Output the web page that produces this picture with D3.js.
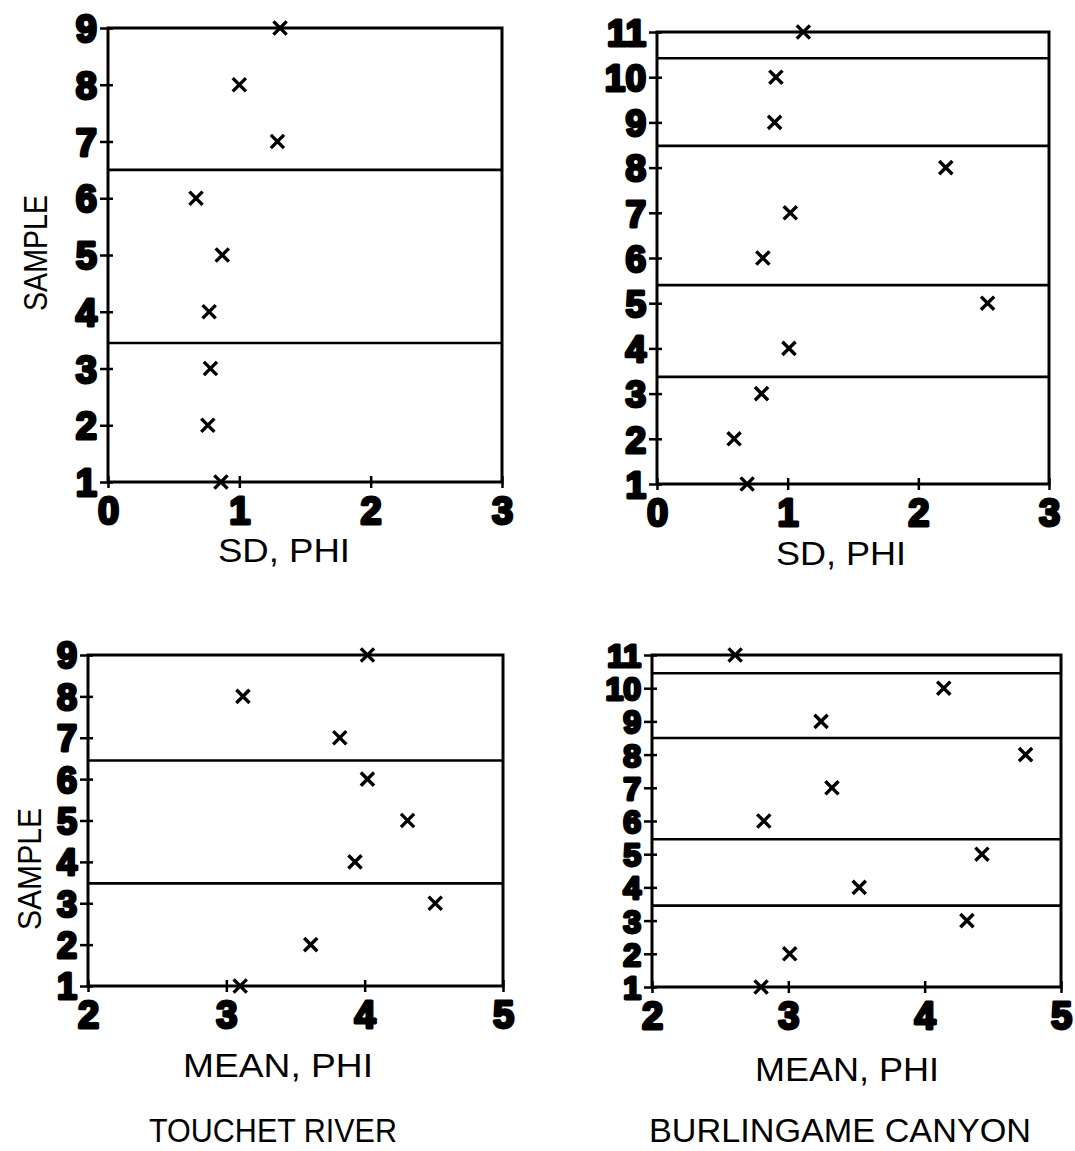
<!DOCTYPE html>
<html>
<head>
<meta charset="utf-8">
<script src="https://cdn.jsdelivr.net/npm/d3@7"></script>
<style>
  html, body { margin: 0; padding: 0; background: #fff; }
  svg { display: block; }
</style>
</head>
<body>
<svg id="chart" width="1075" height="1151"></svg>
<script>
// ---------------- DATA ----------------
const touchetSamples = [1, 2, 3, 4, 5, 6, 7, 8, 9];
const touchetSD      = [0.86, 0.76, 0.78, 0.77, 0.87, 0.67, 1.29, 1.00, 1.31];
const touchetMean    = [3.10, 3.61, 4.51, 3.93, 4.31, 4.02, 3.82, 3.12, 4.02];
const touchetDividersSD   = [6.5, 3.45];
const touchetDividersMean = [6.45, 3.48];

const burlSamples = [1, 2, 3, 4, 5, 6, 7, 8, 9, 10, 11];
const burlSD      = [0.69, 0.59, 0.80, 1.01, 2.53, 0.81, 1.02, 2.21, 0.90, 0.91, 1.12];
const burlMean    = [2.80, 3.01, 4.31, 3.52, 4.42, 2.82, 3.32, 4.74, 3.24, 4.14, 2.61];
const burlDividersSD   = [10.42, 8.48, 5.4, 3.37];
const burlDividersMean = [10.45, 8.5, 5.45, 3.45];

const sdTicks   = [0, 1, 2, 3];
const meanTicks = [2, 3, 4, 5];
const touchetYTicks = [1, 2, 3, 4, 5, 6, 7, 8, 9];
const burlYTicks    = [1, 2, 3, 4, 5, 6, 7, 8, 9, 10, 11];

const xTitleSD = "SD, PHI";
const xTitleMean = "MEAN, PHI";
const yTitle = "SAMPLE";
const siteTitles = ["TOUCHET RIVER", "BURLINGAME CANYON"];

// ---------------- LAYOUT ----------------
const svg = d3.select("#chart");
const TEXT_FONT = "'Liberation Sans', Arial, sans-serif";
const DIGIT_FONT = "'Liberation Sans', Arial, sans-serif";

const panels = [
  { box: {l: 108, r: 502, t: 28, b: 482},  xd: [0, 3], yd: [1, 9],  xt: sdTicks,   yt: touchetYTicks,
    xs: touchetSD, ys: touchetSamples, div: touchetDividersSD, yfs: 38,
    xTitle: xTitleSD, xTitlePos: [284, 562, 132], yTitlePos: [47, 253, 116] },
  { box: {l: 657, r: 1049, t: 32, b: 484}, xd: [0, 3], yd: [1, 11], xt: sdTicks,   yt: burlYTicks,
    xs: burlSD, ys: burlSamples, div: burlDividersSD, yfs: 37,
    xTitle: xTitleSD, xTitlePos: [841, 565, 130] },
  { box: {l: 88, r: 503, t: 655, b: 986},  xd: [2, 5], yd: [1, 9],  xt: meanTicks, yt: touchetYTicks,
    xs: touchetMean, ys: touchetSamples, div: touchetDividersMean, yfs: 36,
    xTitle: xTitleMean, xTitlePos: [278, 1077, 190], yTitlePos: [41, 869, 122] },
  { box: {l: 652, r: 1061, t: 655, b: 987}, xd: [2, 5], yd: [1, 11], xt: meanTicks, yt: burlYTicks,
    xs: burlMean, ys: burlSamples, div: burlDividersMean, yfs: 32,
    xTitle: xTitleMean, xTitlePos: [847, 1081, 184] }
];

panels.forEach(p => {
  const g = svg.append("g");
  const x = d3.scaleLinear().domain(p.xd).range([p.box.l, p.box.r]);
  const y = d3.scaleLinear().domain(p.yd).range([p.box.b, p.box.t]);

  // frame
  g.append("rect")
    .attr("x", x(p.xd[0])).attr("y", y(p.yd[1]))
    .attr("width", x(p.xd[1]) - x(p.xd[0]))
    .attr("height", y(p.yd[0]) - y(p.yd[1]))
    .attr("fill", "none").attr("stroke", "#000").attr("stroke-width", 3);

  // dividing lines
  g.selectAll("line.div").data(p.div).enter().append("line")
    .attr("class", "div")
    .attr("x1", x(p.xd[0])).attr("x2", x(p.xd[1]))
    .attr("y1", d => y(d)).attr("y2", d => y(d))
    .attr("stroke", "#000").attr("stroke-width", 2.6);

  // y axis
  const ya = g.append("g").attr("transform", `translate(${x(p.xd[0])},0)`)
    .call(d3.axisLeft(y).tickValues(p.yt).tickFormat(d3.format("d")).tickSizeInner(7).tickSizeOuter(0));
  ya.select(".domain").remove();
  ya.selectAll(".tick line").attr("x1", 5).attr("x2", -8).attr("stroke", "#000").attr("stroke-width", 2.5);
  ya.selectAll(".tick text")
    .attr("x", -11).attr("dy", "0.36em")
    .attr("font-family", DIGIT_FONT).attr("font-weight", "bold").attr("font-size", p.yfs)
    .attr("fill", "#000").attr("stroke", "#000").attr("stroke-width", 3)
    .attr("stroke-linejoin", "round");

  // x axis
  const xa = g.append("g").attr("transform", `translate(0,${y(p.yd[0])})`)
    .call(d3.axisBottom(x).tickValues(p.xt).tickFormat(d3.format("d")).tickSizeInner(6).tickSizeOuter(0));
  xa.select(".domain").remove();
  xa.selectAll(".tick line").attr("y1", -6).attr("y2", 6).attr("stroke", "#000").attr("stroke-width", 2.5);
  xa.selectAll(".tick text")
    .attr("y", 15).attr("dy", "0.71em")
    .attr("font-family", DIGIT_FONT).attr("font-weight", "bold").attr("font-size", 38)
    .attr("fill", "#000").attr("stroke", "#000").attr("stroke-width", 3)
    .attr("stroke-linejoin", "round");
  g.selectAll("g").attr("font-family", DIGIT_FONT);

  // points
  const sym = d3.symbol().type(d3.symbolX).size(115);
  g.selectAll("path.pt").data(p.ys.map((s, i) => ({s, v: p.xs[i]}))).enter().append("path")
    .attr("class", "pt")
    .attr("d", sym)
    .attr("transform", d => `translate(${x(d.v)},${y(d.s)})`)
    .attr("fill", "none").attr("stroke", "#000").attr("stroke-width", 3.4);

  // x title
  g.append("text")
    .attr("x", p.xTitlePos[0]).attr("y", p.xTitlePos[1])
    .attr("text-anchor", "middle")
    .attr("font-family", TEXT_FONT).attr("font-size", 34)
    .attr("textLength", p.xTitlePos[2]).attr("lengthAdjust", "spacingAndGlyphs")
    .attr("fill", "#000")
    .text(p.xTitle);

  // y title
  if (p.yTitlePos) {
    g.append("text")
      .attr("transform", `translate(${p.yTitlePos[0]},${p.yTitlePos[1]}) rotate(-90)`)
      .attr("text-anchor", "middle")
      .attr("font-family", TEXT_FONT).attr("font-size", 33)
      .attr("textLength", p.yTitlePos[2]).attr("lengthAdjust", "spacingAndGlyphs")
      .attr("fill", "#000")
      .text(yTitle);
  }
});

// site titles
const siteX = [273, 840];
const siteLen = [248, 382];
svg.selectAll("text.site").data(siteTitles).enter().append("text")
  .attr("class", "site")
  .attr("x", (d, i) => siteX[i]).attr("y", 1142)
  .attr("text-anchor", "middle")
  .attr("font-family", TEXT_FONT).attr("font-size", 33)
  .attr("textLength", (d, i) => siteLen[i]).attr("lengthAdjust", "spacingAndGlyphs")
  .attr("fill", "#000")
  .text(d => d);
</script>
</body>
</html>
